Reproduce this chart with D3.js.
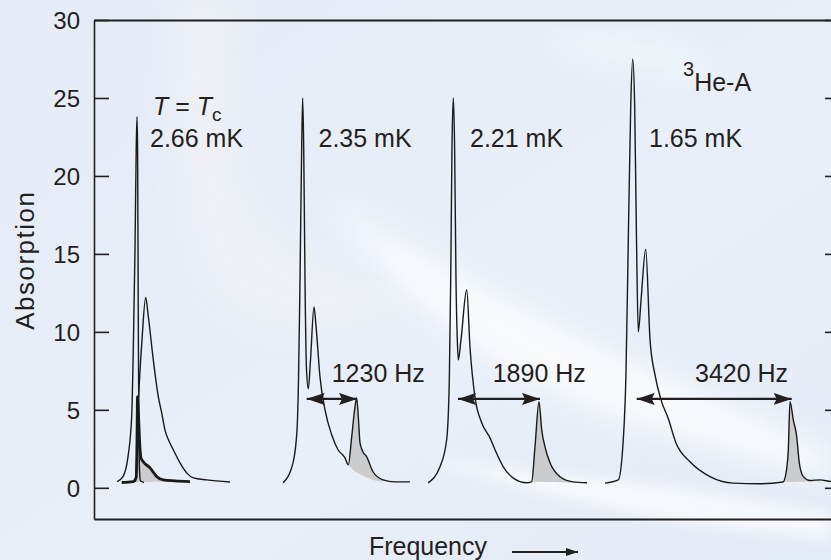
<!DOCTYPE html>
<html>
<head>
<meta charset="utf-8">
<script src="https://cdn.jsdelivr.net/npm/d3@7"></script>
<style>
  html, body { margin: 0; padding: 0; }
  body { width: 831px; height: 560px; overflow: hidden; background: #e6edf7; }
  svg { display: block; font-family: "Liberation Sans", Arial, Helvetica, sans-serif; }
</style>
</head>
<body>
<svg id="chart" width="831" height="560"></svg>
<script>
// --- data (frequency in arbitrary units, absorption) ---
const yTicks = [0, 5, 10, 15, 20, 25, 30];

// T = Tc, 2.66 mK : sharp normal peak, broad line, and thick shaded line
const tcSharp = [[23,0.40],[29,0.72],[34,2.0],[37.7,4.6],[39.3,8.9],[41,15.3],[42.2,21.7],[43,23.8],[43.6,21.7],[44.2,12.1],[44.8,4.4],[45.5,1.15],[46.5,0.45],[50,0.34]];
const tcBroad = [[41.5,0.38],[43,2.4],[44,5.0],[45.3,6.7],[48,9.5],[51.7,12.2],[54.3,11.0],[59.3,8.2],[64.3,5.85],[67.7,4.8],[71,3.7],[74.3,3.1],[79.3,2.44],[86,1.6],[92.7,0.96],[99.3,0.64],[112.7,0.51],[136,0.37]];
const tcThick = [[27.7,0.34],[39.3,0.40],[42.3,0.71],[43,3.1],[43.5,5.85],[44.3,5.0],[45.5,3.1],[47,1.92],[49.3,1.67],[56,1.28],[62.7,0.72],[69.3,0.51],[81,0.45],[96,0.40]];

const spec235 = [[189,0.32],[199,1.6],[203,3.7],[204.5,6.9],[206,13.3],[207.7,21.9],[208.7,25.0],[209.7,21.9],[211,13.3],[212.5,7.6],[214.3,6.35],[216.5,8.2],[220,11.6],[222,10.4],[226,7.1],[231,5.0],[237.7,3.4],[244,2.44],[251,1.92],[254.3,1.47],[257.7,3.27],[261,5.19],[262.7,5.77],[264.5,4.36],[266,2.88],[269,2.3],[272.7,1.99],[279,1.03],[289,0.51],[301,0.38],[316,0.38]];
const fill235Low = [[254.3,1.47],[261,1.05],[271,0.7],[281,0.46],[291,0.38]];

const spec221 = [[334,0.32],[346,1.35],[352.7,3.1],[355.3,6.9],[356.7,13.3],[358,21.9],[359.3,25.0],[360.6,21.9],[362,13.3],[363.3,9.5],[364.3,8.2],[367,9.5],[372.7,12.7],[376,9.0],[381,5.8],[387.7,4.17],[396,3.2],[401,2.44],[409.3,1.35],[419,0.64],[432.7,0.32],[437.7,0.40],[441,2.63],[445,5.53],[447.7,3.72],[451,2.63],[456,1.6],[466,0.71],[479,0.38],[493,0.32]];
const fill221Low = [[437.7,0.40],[493,0.32]];

const spec165 = [[511,0.30],[524.3,0.51],[529.3,3.1],[532,7.4],[534.3,15.9],[536.7,24.4],[538.7,27.5],[540.7,24.4],[542.5,15.9],[544.3,10.0],[547,12.0],[551.7,15.3],[556,9.5],[561,7.24],[567,5.64],[574,4.49],[582,2.88],[596,1.67],[616,0.72],[639,0.30],[666,0.26],[689,0.37],[692.5,1.15],[694.3,2.44],[696,5.53],[699.3,4.36],[702.7,3.29],[705.3,1.6],[709.3,0.72],[716,0.47],[726,0.51],[737,0.40],[746,0.38]];
const fill165Low = [[689,0.37],[726,0.40]];

// shaded satellite ranges [from, to]
const shade235 = [254.3, 291];
const shade221 = [437.7, 493];
const shade165 = [689, 726];
const shadeTc = [42.3, 81];

const tempLabels = [
  { text: "2.66 mK", f: 56, a: 21.86 },
  { text: "2.35 mK", f: 224.5, a: 21.86 },
  { text: "2.21 mK", f: 376, a: 21.86 },
  { text: "1.65 mK", f: 555, a: 21.86 }
];
const splittings = [
  { text: "1230 Hz", from: 212.7, to: 263, a: 5.7, lf: 237.7 },
  { text: "1890 Hz", from: 364, to: 446, a: 5.7, lf: 398.7 },
  { text: "3420 Hz", from: 542.7, to: 697.7, a: 5.7, lf: 601 }
];
const tcLabel = { f: 59, a: 23.9 };
const phaseLabel = { f: 589, a: 25.47 };

// --- setup ---
const W = 831, H = 560;
const margin = { left: 94, top: 20, right: -9, bottom: 41 };
const svg = d3.select("#chart");

const x = d3.scaleLinear().domain([0, 746]).range([margin.left, W - margin.right]);
const y = d3.scaleLinear().domain([-2, 30]).range([H - margin.bottom, margin.top]);

const ink = "#231f20";

// background swirl
const defs = svg.append("defs");
const bg = defs.append("linearGradient").attr("id", "bg").attr("x1", 0).attr("y1", 0).attr("x2", 1).attr("y2", 1);
bg.append("stop").attr("offset", "0%").attr("stop-color", "#e5ecf7");
bg.append("stop").attr("offset", "60%").attr("stop-color", "#e9eff8");
bg.append("stop").attr("offset", "100%").attr("stop-color", "#e3ebf6");
defs.append("filter").attr("id", "blur").attr("x", "-20%").attr("y", "-20%").attr("width", "140%").attr("height", "140%")
  .append("feGaussianBlur").attr("stdDeviation", 14);
defs.append("filter").attr("id", "blur2").attr("x", "-20%").attr("y", "-20%").attr("width", "140%").attr("height", "140%")
  .append("feGaussianBlur").attr("stdDeviation", 6);

svg.append("rect").attr("width", W).attr("height", H).attr("fill", "url(#bg)");
const swirl = svg.append("g").attr("pointer-events", "none");
swirl.append("path")
  .attr("d", "M175,0 C170,80 175,180 200,260 C230,330 300,330 360,320 L420,300 C340,280 260,260 240,180 C225,110 230,40 235,0 Z")
  .attr("fill", "#eff1f4").attr("opacity", 0.85).attr("filter", "url(#blur)");
swirl.append("path")
  .attr("d", "M330,200 C430,260 560,330 700,390 C760,415 810,440 831,450 L831,480 C780,470 700,445 620,420 C520,385 420,330 330,200 Z")
  .attr("fill", "#ffffff").attr("opacity", 0.7).attr("filter", "url(#blur)");
swirl.append("path")
  .attr("d", "M430,460 C520,470 640,480 760,500 L831,512 L831,540 C720,530 600,515 430,460 Z")
  .attr("fill", "#ffffff").attr("opacity", 0.6).attr("filter", "url(#blur2)");
swirl.append("path")
  .attr("d", "M540,40 C600,30 680,40 720,80 C660,70 600,60 540,40 Z")
  .attr("fill", "#ffffff").attr("opacity", 0.5).attr("filter", "url(#blur)");

// --- frame and axes ---
const axisG = svg.append("g").attr("color", ink);
axisG.append("g")
  .attr("transform", `translate(${x(0)},0)`)
  .call(d3.axisLeft(y).tickValues(yTicks).tickSizeInner(-15).tickSizeOuter(0).tickPadding(14))
  .call(g => g.selectAll("text").attr("font-size", 24).attr("fill", ink).attr("dy", "0.36em"))
  .call(g => g.selectAll("line, path").attr("stroke-width", 1.6));
axisG.append("g")
  .attr("transform", `translate(${x(746)},0)`)
  .call(d3.axisRight(y).tickValues(yTicks).tickSizeInner(-15).tickSizeOuter(0).tickFormat(""))
  .call(g => g.selectAll("line, path").attr("stroke-width", 1.6));
axisG.append("g")
  .attr("transform", `translate(0,${y(30)})`)
  .call(d3.axisTop(x).tickValues([]).tickSizeOuter(0))
  .call(g => g.select("path").attr("stroke-width", 2));
axisG.append("g")
  .attr("transform", `translate(0,${y(-2)})`)
  .call(d3.axisBottom(x).tickValues([]).tickSizeOuter(0))
  .call(g => g.select("path").attr("stroke-width", 2));

svg.append("text")
  .attr("transform", `translate(34,${y(14.6)}) rotate(-90)`)
  .attr("text-anchor", "middle")
  .attr("font-size", 26).attr("letter-spacing", 1.5).attr("fill", ink)
  .text("Absorption");

svg.append("text")
  .attr("x", 487).attr("y", 555)
  .attr("text-anchor", "end")
  .attr("font-size", 25).attr("fill", ink)
  .text("Frequency");
defs.append("marker").attr("id", "headSmall").attr("viewBox", "0 0 12 8").attr("refX", 12).attr("refY", 4)
  .attr("markerWidth", 12).attr("markerHeight", 8).attr("markerUnits", "userSpaceOnUse").attr("orient", "auto")
  .append("path").attr("d", "M0,0 L12,4 L0,8 Z").attr("fill", ink);
svg.append("line")
  .attr("x1", 512).attr("x2", 578).attr("y1", 552).attr("y2", 552)
  .attr("stroke", ink).attr("stroke-width", 2.2).attr("marker-end", "url(#headSmall)");

// --- spectra ---
const line = d3.line().x(d => x(d[0])).y(d => y(d[1])).curve(d3.curveMonotoneX);
const plot = svg.append("g");

function shadeArea(upper, lower, range) {
  const low = d3.scaleLinear().domain(lower.map(d => d[0])).range(lower.map(d => d[1])).clamp(true);
  const pts = upper.filter(d => d[0] >= range[0] && d[0] <= range[1]);
  const area = d3.area()
    .x(d => x(d[0])).y1(d => y(d[1])).y0(d => y(low(d[0])))
    .curve(d3.curveMonotoneX);
  plot.append("path").datum(pts).attr("d", area).attr("fill", "#cbcccd");
}

shadeArea(tcThick, [[42, 0.36], [81, 0.40]], shadeTc);
shadeArea(spec235, fill235Low, shade235);
shadeArea(spec221, fill221Low, shade221);
shadeArea(spec165, fill165Low, shade165);

[tcSharp, tcBroad, spec235, spec221, spec165].forEach(s => {
  plot.append("path").datum(s).attr("d", line)
    .attr("fill", "none").attr("stroke", "#1b1a1a").attr("stroke-width", 1.4).attr("stroke-linejoin", "round");
});
plot.append("path").datum(tcThick).attr("d", line)
  .attr("fill", "none").attr("stroke", "#1b1a1a").attr("stroke-width", 2.8).attr("stroke-linejoin", "round");

// --- annotations ---
const ann = svg.append("g").attr("fill", ink).attr("font-size", 25);
ann.selectAll("text.temp").data(tempLabels).join("text")
  .attr("class", "temp")
  .attr("x", d => x(d.f)).attr("y", d => y(d.a))
  .text(d => d.text);

const tc = ann.append("text").attr("x", x(tcLabel.f)).attr("y", y(tcLabel.a));
tc.append("tspan").attr("font-style", "italic").text("T");
tc.append("tspan").text(" = ");
tc.append("tspan").attr("font-style", "italic").text("T");
tc.append("tspan").attr("font-size", 19).attr("dy", 6).text("c");

const he = ann.append("text").attr("x", x(phaseLabel.f)).attr("y", y(phaseLabel.a));
he.append("tspan").attr("font-size", 20).attr("dy", -15).text("3");
he.append("tspan").attr("dy", 15).text("He-A");

defs.append("marker").attr("id", "head").attr("viewBox", "0 0 18 12").attr("refX", 18).attr("refY", 6)
  .attr("markerWidth", 18).attr("markerHeight", 12).attr("markerUnits", "userSpaceOnUse").attr("orient", "auto-start-reverse")
  .append("path").attr("d", "M0,0 L18,6 L0,12 L3,6 Z").attr("fill", ink);

ann.selectAll("line.split").data(splittings).join("line")
  .attr("class", "split")
  .attr("x1", d => x(d.from)).attr("x2", d => x(d.to))
  .attr("y1", d => y(d.a)).attr("y2", d => y(d.a))
  .attr("stroke", ink).attr("stroke-width", 2.2)
  .attr("marker-start", "url(#head)").attr("marker-end", "url(#head)");
ann.selectAll("text.split").data(splittings).join("text")
  .attr("class", "split")
  .attr("x", d => x(d.lf)).attr("y", d => y(d.a) - 17)
  .text(d => d.text);
</script>
</body>
</html>
